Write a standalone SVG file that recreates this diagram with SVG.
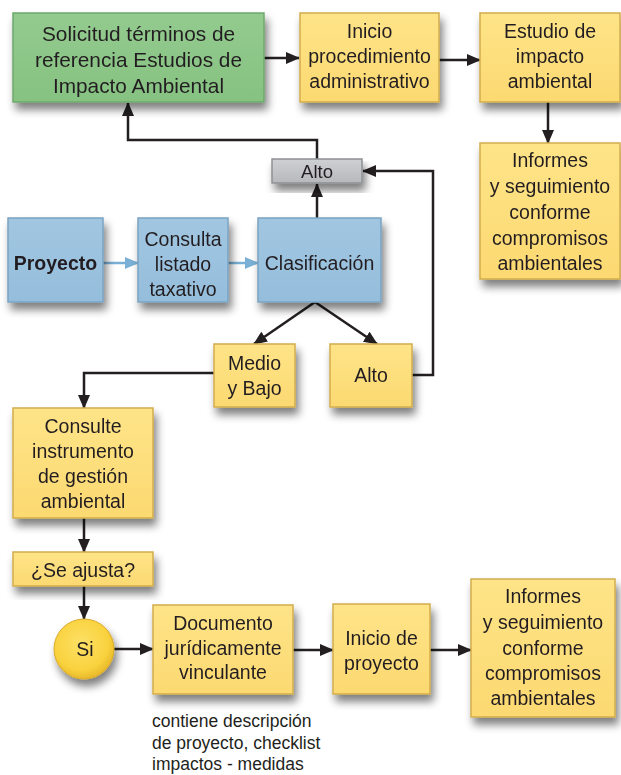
<svg xmlns="http://www.w3.org/2000/svg" width="621" height="775" viewBox="0 0 621 775">
<defs>
<filter id="sh" x="-20%" y="-20%" width="150%" height="160%">
<feGaussianBlur in="SourceAlpha" stdDeviation="4.5"/>
<feOffset dx="3" dy="7" result="b"/>
<feComponentTransfer><feFuncA type="linear" slope="0.5"/></feComponentTransfer>
<feMerge><feMergeNode/><feMergeNode in="SourceGraphic"/></feMerge>
</filter>
<linearGradient id="gy" x1="0" y1="0" x2="0" y2="1"><stop offset="0" stop-color="#fee488"/><stop offset="1" stop-color="#fcd971"/></linearGradient>
<linearGradient id="gg" x1="0" y1="0" x2="0" y2="1"><stop offset="0" stop-color="#93cb8e"/><stop offset="1" stop-color="#86c282"/></linearGradient>
<linearGradient id="gb" x1="0" y1="0" x2="0" y2="1"><stop offset="0" stop-color="#a1c6e1"/><stop offset="1" stop-color="#95bedc"/></linearGradient>
<linearGradient id="gr" x1="0" y1="0" x2="0" y2="1"><stop offset="0" stop-color="#cfd0d2"/><stop offset="1" stop-color="#b7b8bb"/></linearGradient>
<radialGradient id="gc" cx="0.45" cy="0.4" r="0.6"><stop offset="0" stop-color="#fde066"/><stop offset="0.75" stop-color="#f9d23e"/><stop offset="1" stop-color="#e8b92a"/></radialGradient>
<marker id="ak" markerWidth="14" markerHeight="12" refX="13" refY="6" orient="auto" markerUnits="userSpaceOnUse"><path d="M0,0 L14,6 L0,12 Z" fill="#231f20"/></marker>
<marker id="ab" markerWidth="14" markerHeight="12" refX="13" refY="6" orient="auto" markerUnits="userSpaceOnUse"><path d="M0,0 L14,6 L0,12 Z" fill="#7ab0d6"/></marker>
</defs>
<style>
text{font-family:"Liberation Sans",Arial,sans-serif;font-size:19.5px;fill:#231f20;text-anchor:middle}
.y{fill:url(#gy);stroke:#d2ad4c;stroke-width:1.5}
.g{fill:url(#gg);stroke:#6fa86b;stroke-width:1.5}
.b{fill:url(#gb);stroke:#7aa3c2;stroke-width:1.5}
.r{fill:url(#gr);stroke:#8e9094;stroke-width:1.5}
.k{fill:none;stroke:#231f20;stroke-width:2.5;marker-end:url(#ak)}
.kb{fill:none;stroke:#7ab0d6;stroke-width:2.5;marker-end:url(#ab)}
.n{filter:url(#sh)}
.big{font-size:20.8px}
.note{text-anchor:start;font-size:17.5px}
</style>

<g id="connectors">
<path class="k" d="M264,58 H299"/>
<path class="k" d="M439,60 H480"/>
<path class="k" d="M548,102 V143"/>
<path class="k" d="M317,159 V140 H128 V103"/>
<path class="k" d="M317,218 V184"/>
<path class="k" d="M412,375 H433 V171 H363"/>
<path class="kb" d="M103,263 H138"/>
<path class="kb" d="M228,263 H258"/>
<path class="k" d="M315,302 L254,344"/>
<path class="k" d="M315,302 L377,344"/>
<path class="k" d="M214,373 H84 V408"/>
<path class="k" d="M84,518 V552"/>
<path class="k" d="M84,586 V619"/>
<path class="k" d="M114,649 H153"/>
<path class="k" d="M293,650 H333"/>
<path class="k" d="M430,650 H471"/>
</g>

<g id="solicitud" class="n"><rect class="g" x="13" y="13" width="251" height="89"/>
<text class="big" x="138.5" y="41">Solicitud términos de</text>
<text class="big" x="138.5" y="67">referencia Estudios de</text>
<text class="big" x="138.5" y="93">Impacto Ambiental</text></g>

<g id="inicio-proc" class="n"><rect class="y" x="300" y="13" width="139" height="89"/>
<text x="369.5" y="38">Inicio</text>
<text x="369.5" y="63">procedimiento</text>
<text x="369.5" y="88">administrativo</text></g>

<g id="estudio" class="n"><rect class="y" x="480" y="13" width="140" height="89"/>
<text x="550" y="38">Estudio de</text>
<text x="550" y="63">impacto</text>
<text x="550" y="88">ambiental</text></g>

<g id="informes1" class="n"><rect class="y" x="480" y="143" width="140" height="136"/>
<text x="550" y="167">Informes</text>
<text x="550" y="193">y seguimiento</text>
<text x="550" y="219">conforme</text>
<text x="550" y="245">compromisos</text>
<text x="550" y="270">ambientales</text></g>

<g id="alto-gris" class="n"><rect class="r" x="272" y="159" width="90" height="24"/>
<text x="317" y="178" style="font-size:18.5px">Alto</text></g>

<g id="proyecto" class="n"><rect class="b" x="8" y="218" width="95" height="84"/>
<text x="55.5" y="270" style="font-weight:bold">Proyecto</text></g>

<g id="consulta" class="n"><rect class="b" x="138" y="218" width="90" height="84"/>
<text x="183" y="246">Consulta</text>
<text x="183" y="271">listado</text>
<text x="183" y="296">taxativo</text></g>

<g id="clasificacion" class="n"><rect class="b" x="258" y="218" width="123" height="84"/>
<text x="319.5" y="270">Clasificación</text></g>

<g id="medio-bajo" class="n"><rect class="y" x="214" y="344" width="81" height="63"/>
<text x="254.5" y="370">Medio</text>
<text x="254.5" y="395">y Bajo</text></g>

<g id="alto" class="n"><rect class="y" x="330" y="344" width="82" height="63"/>
<text x="371" y="382">Alto</text></g>

<g id="consulte" class="n"><rect class="y" x="13" y="408" width="140" height="110"/>
<text x="83" y="433">Consulte</text>
<text x="83" y="458">instrumento</text>
<text x="83" y="483">de gestión</text>
<text x="83" y="508">ambiental</text></g>

<g id="se-ajusta" class="n"><rect class="y" x="13" y="552" width="140" height="34"/>
<text x="83" y="577">¿Se ajusta?</text></g>

<g id="si" class="n"><circle cx="84" cy="649" r="30" fill="url(#gc)" stroke="#d9aa2a" stroke-width="1"/>
<text x="85" y="656">Si</text></g>

<g id="documento" class="n"><rect class="y" x="153" y="605" width="140" height="89"/>
<text x="223" y="630">Documento</text>
<text x="223" y="655">jurídicamente</text>
<text x="223" y="679">vinculante</text></g>

<g id="inicio-proyecto" class="n"><rect class="y" x="333" y="604" width="97" height="90"/>
<text x="381.5" y="645">Inicio de</text>
<text x="381.5" y="670">proyecto</text></g>

<g id="informes2" class="n"><rect class="y" x="471" y="579" width="144" height="138"/>
<text x="543" y="603">Informes</text>
<text x="543" y="629">y seguimiento</text>
<text x="543" y="655">conforme</text>
<text x="543" y="680">compromisos</text>
<text x="543" y="705">ambientales</text></g>

<g id="nota">
<text class="note" x="152" y="727">contiene descripción</text>
<text class="note" x="152" y="749">de proyecto, checklist</text>
<text class="note" x="152" y="770">impactos - medidas</text></g>
</svg>
